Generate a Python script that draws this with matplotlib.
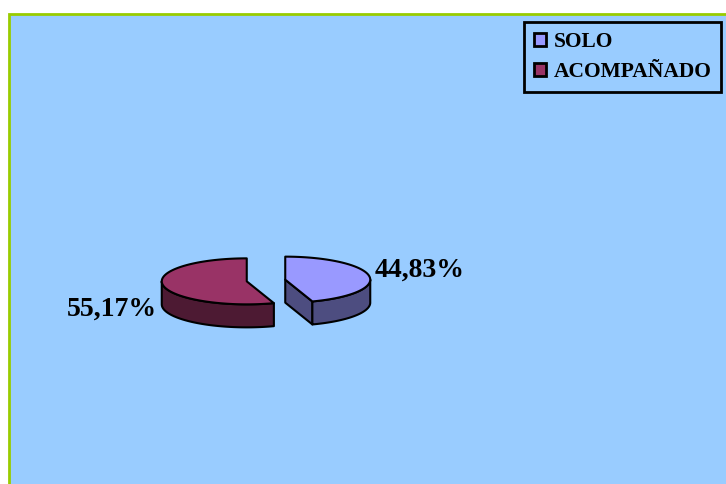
import numpy as np
import matplotlib.pyplot as plt
from matplotlib.patches import Polygon, Rectangle, Patch

# datos
categorias = ['SOLO', 'ACOMPAÑADO']
porcentajes = [44.83, 55.17]
etiquetas = ['44,83%', '55,17%']
colores_sup = ['#9999FF', '#993366']
colores_lado = ['#4D4D80', '#4D1A33']

W, H = 726, 484
fig = plt.figure(figsize=(W / 100, H / 100), dpi=100, facecolor='white')
ax = fig.add_axes([0, 0, 1, 1])
ax.set_xlim(0, W)
ax.set_ylim(H, 0)
ax.axis('off')

# area del grafico (fondo azul con borde verde)
ax.add_patch(Rectangle((9, 14), W + 20, H + 20, facecolor='#99CCFF',
                       edgecolor='#99CC00', linewidth=2, zorder=0))

# tarta 3D simple
cx, cy = 266, 280.5     # centro
a, b = 85, 23           # semiejes
prof = 23               # grosor
explode = 19.5


def punto(xc, yc, t, dy=0):
    return xc + a * np.cos(t), yc - b * np.sin(t) + dy


fracs = np.array(porcentajes) / sum(porcentajes)
ang = np.pi / 2
kw = dict(edgecolor='black', linewidth=1.5, joinstyle='round')
for i, f in enumerate(fracs):
    t1 = ang                      # fin (sentido antihorario)
    t0 = ang - 2 * np.pi * f      # inicio
    ang = t0
    mid = (t0 + t1) / 2
    xc = cx + explode * np.cos(mid)
    yc = cy - explode * (b / a) * np.sin(mid)

    # cara radial visible
    for t, vis in ((t0, np.cos(t0) > 1e-6), (t1, np.cos(t1) < -1e-6)):
        if vis:
            px, py = punto(xc, yc, t)
            ax.add_patch(Polygon([(xc, yc), (px, py), (px, py + prof), (xc, yc + prof)],
                                 facecolor=colores_lado[i], zorder=2, **kw))

    # lado exterior (solo la parte frontal)
    segs = []
    for base in (-np.pi, np.pi):
        s, e = max(t0, base), min(t1, base + np.pi)
        if e > s:
            segs.append((s, e))
    for s, e in segs:
        tt = np.linspace(s, e, 80)
        xs, ys = punto(xc, yc, tt)
        pts = list(zip(xs, ys)) + list(zip(xs[::-1], ys[::-1] + prof))
        ax.add_patch(Polygon(pts, facecolor=colores_lado[i], zorder=3, **kw))

    # cara superior
    tt = np.linspace(t0, t1, 150)
    xs, ys = punto(xc, yc, tt)
    pts = [(xc, yc)] + list(zip(xs, ys))
    ax.add_patch(Polygon(pts, facecolor=colores_sup[i], zorder=4, **kw))

    # etiqueta
    lx = xc + 1.05 * a * np.cos(mid)
    ly = yc - 1.05 * b * np.sin(mid)
    if np.sin(mid) < 0:
        ly += prof + 1
    else:
        ly -= 6
    ax.text(lx + (1 if np.cos(mid) > 0 else -2), ly, etiquetas[i],
            ha='left' if np.cos(mid) > 0 else 'right', va='center',
            family='Liberation Serif', fontweight='bold', fontsize=20,
            color='black', zorder=5)

# leyenda
handles = [Patch(facecolor=c, edgecolor='black', linewidth=2) for c in colores_sup]
leg = ax.legend(handles, categorias, loc='upper right',
                bbox_to_anchor=(721 / W, 1 - 22 / H), bbox_transform=fig.transFigure,
                frameon=True, fancybox=False, facecolor='#99CCFF', edgecolor='black',
                framealpha=1, borderpad=0.45, labelspacing=0.5,
                handlelength=0.55, handleheight=0.55, handletextpad=0.35,
                borderaxespad=0,
                prop=dict(family='Liberation Serif', weight='bold', size=15.5))
leg.get_frame().set_linewidth(2)
leg._legend_box.align = 'left'

fig.savefig('out.png', dpi=100, facecolor='white')
